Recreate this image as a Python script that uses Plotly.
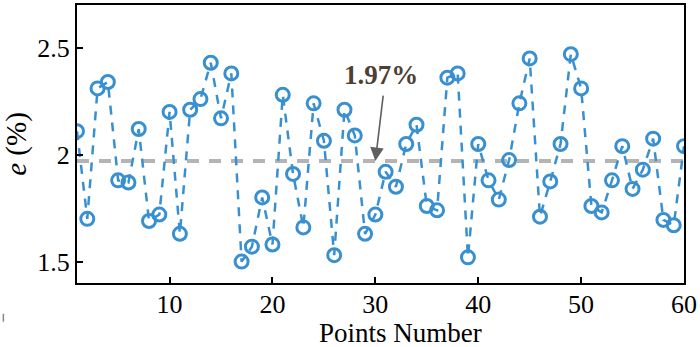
import plotly.graph_objects as go

# Relative error of each measured point (%)
points = list(range(1, 61))
error_pct = [
    2.11, 1.70, 2.31, 2.34, 1.88, 1.87, 2.12, 1.69, 1.72, 2.20,
    1.63, 2.21, 2.26, 2.43, 2.17, 2.38, 1.50, 1.57, 1.80, 1.58,
    2.28, 1.91, 1.66, 2.24, 2.065, 1.53, 2.21, 2.09, 1.63, 1.72,
    1.92, 1.85, 2.05, 2.14, 1.76, 1.74, 2.36, 2.38, 1.52, 2.05,
    1.88, 1.79, 1.975, 2.24, 2.45, 1.71, 1.875, 2.05, 2.47, 2.31,
    1.76, 1.73, 1.88, 2.04, 1.84, 1.93, 2.075, 1.695, 1.67, 2.04,
]
mean_error = 1.97
x_ticks = [10, 20, 30, 40, 50, 60]
y_ticks = [1.5, 2, 2.5]

FONT = "Liberation Serif"
BLUE = "#3890d0"

fig = go.Figure()

# Mean error reference line
fig.add_trace(go.Scatter(
    x=[points[0], points[-1]], y=[mean_error, mean_error],
    mode="lines",
    line=dict(color="#b4b4b4", width=4, dash="12px,10px"),
    hoverinfo="skip", showlegend=False,
))

# Per-point errors
fig.add_trace(go.Scatter(
    x=points, y=error_pct,
    mode="lines+markers",
    line=dict(color=BLUE, width=2.5, dash="9px,8px"),
    marker=dict(symbol="circle-open", size=13, color=BLUE,
                line=dict(width=3, color=BLUE)),
    showlegend=False,
))

axis_common = dict(
    showgrid=False, zeroline=False,
    showline=True, linecolor="black", linewidth=2, mirror=True,
    ticks="inside", ticklen=6, tickwidth=1.5, tickcolor="black",
    tickfont=dict(family=FONT, size=26, color="black"),
)

fig.update_layout(
    width=700, height=347,
    margin=dict(l=77, r=13, t=3, b=64),
    paper_bgcolor="white", plot_bgcolor="white",
    font=dict(family=FONT),
    xaxis=dict(range=[1, 60], tickvals=x_ticks, ticklabelstandoff=-3, **axis_common),
    yaxis=dict(range=[1.4, 2.7], tickvals=y_ticks, ticktext=["1.5", "2", "2.5"],
               title=dict(text="<i>e</i> (%)", font=dict(family=FONT, size=29, color="black"),
                          standoff=8),
               **axis_common),
)

# Mean value label with arrow pointing at the reference line
fig.add_annotation(
    x=30, y=mean_error, xref="x", yref="y",
    ax=8, ay=-67, axref="pixel", ayref="pixel",
    text="", showarrow=True,
    arrowhead=2, arrowsize=1.7, arrowwidth=1.6, arrowcolor="#606060",
)
fig.add_annotation(
    x=(383 - 77) / 610, y=(283 - 73) / 280, xref="paper", yref="paper",
    text="<b>1.97%</b>", showarrow=False,
    font=dict(family=FONT, size=27, color="#4e3f33"),
    xanchor="center", yanchor="middle",
)

# x-axis title
fig.add_annotation(
    x=(402 - 77) / 610, y=(283 - 333) / 280, xref="paper", yref="paper",
    text="Points Number", showarrow=False,
    font=dict(family=FONT, size=27, color="black"),
    xanchor="center", yanchor="middle",
)

# small stray tick at the lower left corner
fig.add_shape(
    type="line", xref="paper", yref="paper",
    x0=(3 - 77) / 610, x1=(3 - 77) / 610,
    y0=(283 - 314) / 280, y1=(283 - 322) / 280,
    line=dict(color="#888888", width=1.5),
)

fig.write_html("out.html")
